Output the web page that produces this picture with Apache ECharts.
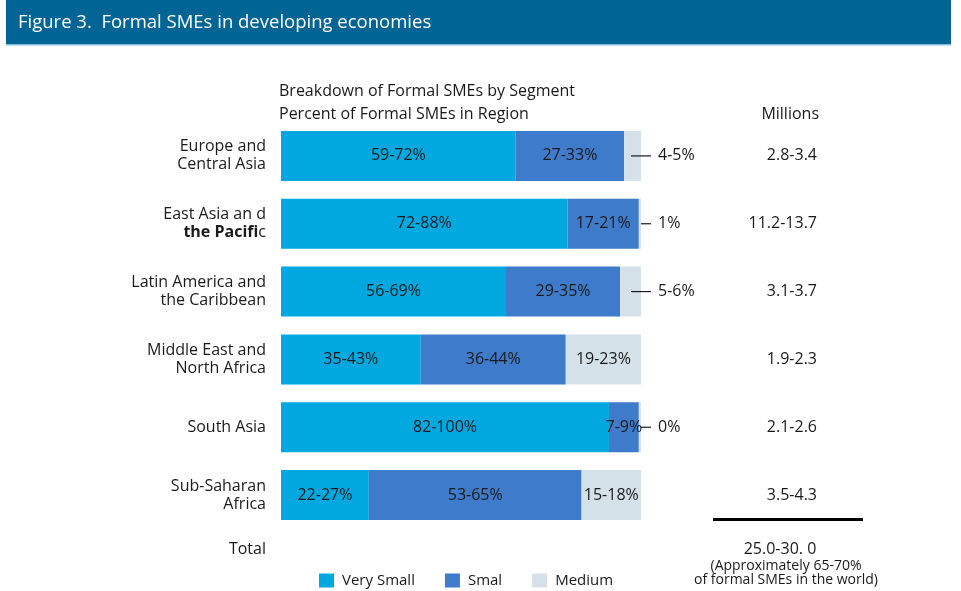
<!DOCTYPE html>
<html>
<head>
<meta charset="utf-8">
<script src="https://cdn.jsdelivr.net/npm/echarts@6/dist/echarts.min.js"></script>
<style>
html,body{margin:0;padding:0;background:#fff;}
#chart{width:961px;height:591px;}
</style>
</head>
<body>
<div id="chart"></div>
<script>
const categories = ['Europe and\nCentral Asia', 'East Asia an d\n{b|the Pacifi}c', 'Latin America and\nthe Caribbean', 'Middle East and\nNorth Africa', 'South Asia', 'Sub-Saharan\nAfrica'];
const verySmall = [65.2, 79.6, 62.5, 38.8, 91.1, 24.4];
const small = [30.1, 19.8, 31.7, 40.3, 8.3, 59.1];
const medium = [4.7, 0.6, 5.8, 20.9, 0.6, 16.5];
const verySmallLabels = ['59-72%', '72-88%', '56-69%', '35-43%', '82-100%', '22-27%'];
const smallLabels = ['27-33%', '17-21%', '29-35%', '36-44%', '7-9%', '53-65%'];
const mediumLabels = ['4-5%', '1%', '5-6%', '19-23%', '0%', '15-18%'];
const millions = ['2.8-3.4', '11.2-13.7', '3.1-3.7', '1.9-2.3', '2.1-2.6', '3.5-4.3'];
const totalMillions = '25.0-30. 0';
const seriesNames = ['Very Small', 'Smal', 'Medium'];

const FONT = 'Open Sans';
const TXT = '#1a1a1a';
const colors = ['#00A8DF', '#3E7BCA', '#D5E1E8'];

const chart = echarts.init(document.getElementById('chart'), null, {renderer: 'canvas'});

function insideLabel(labels, hideSmall) {
  return {
    show: true,
    position: 'inside',
    fontFamily: FONT,
    fontSize: 16,
    color: TXT,
    formatter: p => (hideSmall && hideSmall[p.dataIndex] < 10) ? '' : labels[p.dataIndex]
  };
}

const option = {
  animation: false,
  textStyle: {fontFamily: FONT},
  grid: {left: 281, width: 360, top: 122, height: 407, containLabel: false},
  xAxis: {type: 'value', min: 0, max: 100, show: false},
  yAxis: [{
    type: 'category',
    data: categories,
    inverse: true,
    axisLine: {show: false},
    axisTick: {show: false},
    axisLabel: {
      margin: 15,
      fontFamily: FONT,
      fontSize: 16,
      color: TXT,
      lineHeight: 18,
      align: 'right',
      rich: {b: {fontWeight: 'bold', fontFamily: FONT, fontSize: 16, color: TXT, lineHeight: 18}}
    }
  }, {
    type: 'category',
    data: millions,
    inverse: true,
    position: 'right',
    axisLine: {show: false},
    axisTick: {show: false},
    axisLabel: {margin: 176, align: 'right', fontFamily: FONT, fontSize: 16, color: TXT}
  }],
  legend: {
    left: 314, top: 568,
    icon: 'rect',
    itemWidth: 15, itemHeight: 14,
    itemGap: 30,
    textStyle: {fontFamily: FONT, fontSize: 15, color: TXT, padding: [0, 0, 0, 3]},
    data: seriesNames
  },
  series: [
    {name: seriesNames[0], type: 'bar', stack: 's', barWidth: 50, data: verySmall, itemStyle: {color: colors[0]}, label: insideLabel(verySmallLabels)},
    {name: seriesNames[1], type: 'bar', stack: 's', barWidth: 50, data: small, itemStyle: {color: colors[1]}, label: insideLabel(smallLabels)},
    {name: seriesNames[2], type: 'bar', stack: 's', barWidth: 50, data: medium, itemStyle: {color: colors[2]}, label: insideLabel(mediumLabels, medium)},
    {
      type: 'custom',
      silent: true,
      data: medium.map((m, i) => [100, i, m]),
      encode: {x: 0, y: 1},
      z: 5,
      renderItem: function (params, api) {
        const m = api.value(2);
        if (m >= 10) return null;
        const p = api.coord([100, api.value(1)]);
        const start = m > 2 ? p[0] - 10 : p[0];
        return {
          type: 'group',
          children: [
            {type: 'line', shape: {x1: start, y1: p[1], x2: p[0] + 10, y2: p[1]}, style: {stroke: '#1a1a1a', lineWidth: 1.2}},
            {type: 'text', style: {x: p[0] + 17, y: p[1], text: mediumLabels[params.dataIndex], fill: TXT, font: '16px "' + FONT + '"', textAlign: 'left', textVerticalAlign: 'middle'}}
          ]
        };
      }
    }
  ],
  graphic: [
    {type: 'rect', shape: {x: 6, y: 0, width: 945, height: 44}, style: {fill: '#006595'}},
    {type: 'rect', shape: {x: 6, y: 44, width: 945, height: 1.5}, style: {fill: '#7fc0e3'}},
    {type: 'text', style: {x: 18, y: 23, text: 'Figure 3.  Formal SMEs in developing economies', fill: '#ffffff', font: '18.5px "' + FONT + '"', textVerticalAlign: 'middle'}},
    {type: 'text', style: {x: 279, y: 91, text: 'Breakdown of Formal SMEs by Segment', fill: TXT, font: '16px "' + FONT + '"', textVerticalAlign: 'middle'}},
    {type: 'text', style: {x: 279, y: 114, text: 'Percent of Formal SMEs in Region', fill: TXT, font: '16px "' + FONT + '"', textVerticalAlign: 'middle'}},
    {type: 'text', style: {x: 819, y: 114, text: 'Millions', fill: TXT, font: '16px "' + FONT + '"', textAlign: 'right', textVerticalAlign: 'middle'}},
    {type: 'rect', shape: {x: 713, y: 518, width: 150, height: 3}, style: {fill: '#000'}},
    {type: 'text', style: {x: 266, y: 549, text: 'Total', fill: TXT, font: '16px "' + FONT + '"', textAlign: 'right', textVerticalAlign: 'middle'}},
    {type: 'text', style: {x: 780, y: 549, text: totalMillions, fill: TXT, font: '16px "' + FONT + '"', textAlign: 'center', textVerticalAlign: 'middle'}},
    {type: 'text', style: {x: 786, y: 566, text: '(Approximately 65-70%', fill: TXT, font: '14px "' + FONT + '"', textAlign: 'center', textVerticalAlign: 'middle'}},
    {type: 'text', style: {x: 786, y: 580, text: 'of formal SMEs in the world)', fill: TXT, font: '14px "' + FONT + '"', textAlign: 'center', textVerticalAlign: 'middle'}}
  ]
};
chart.setOption(option);
</script>
</body>
</html>
